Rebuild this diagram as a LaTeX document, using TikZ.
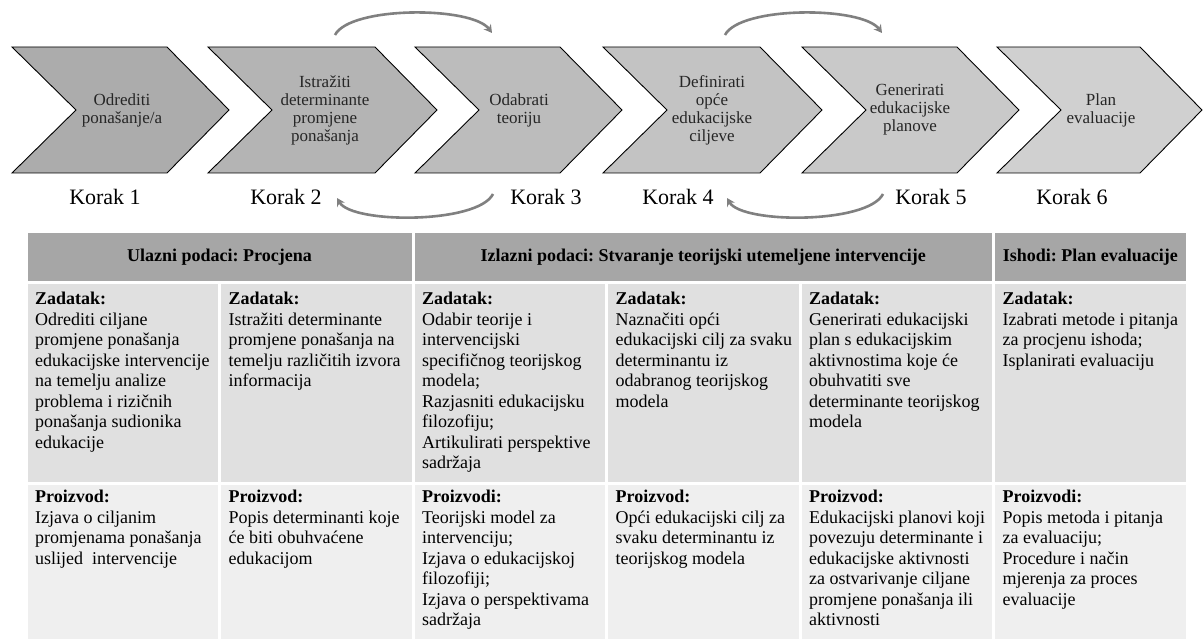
\documentclass[tikz,border=0pt]{standalone}
\usepackage{fontspec}
\setmainfont{Liberation Serif}
\frenchspacing
\usetikzlibrary{arrows.meta}
\definecolor{hdr}{RGB}{166,166,166}
\definecolor{rowa}{RGB}{224,224,224}
\definecolor{rowb}{RGB}{239,239,239}
\definecolor{arcc}{RGB}{128,128,128}
\definecolor{cA}{RGB}{172,172,172}
\definecolor{cB}{RGB}{180,180,180}
\definecolor{cC}{RGB}{188,188,188}
\definecolor{cD}{RGB}{195,195,195}
\definecolor{cE}{RGB}{201,201,201}
\definecolor{cF}{RGB}{208,208,208}
\newcommand{\mychev}[3]{\filldraw[chev, fill=#3] (#1,47) -- (#2,47) -- ({#2+62},110) -- (#2,173) -- (#1,173) -- ({#1+64},110) -- cycle;}
\tikzset{
  chev/.style={draw=black, line width=0.9pt, line join=miter},
  chevtext/.style={align=center, font=\fontsize{17}{18}\selectfont, text=black!85, inner sep=0pt},
  korak/.style={font=\fontsize{22}{24}\selectfont, inner sep=0pt},
  looparrow/.style={draw=arcc, line width=2.6pt, -{Stealth[length=8pt,width=9pt]}},
  cellbox/.style={draw=white, line width=3pt},
  cell/.style={align=left, anchor=north west, inner sep=0pt, font=\fontsize{18}{20.5}\selectfont},
  hdrtext/.style={font=\bfseries\fontsize{18}{21}\selectfont, inner sep=0pt},
}
\begin{document}
\begin{tikzpicture}[x=1pt,y=-1pt]
\useasboundingbox (0,0) rectangle (1203,639);
\fill[white] (0,0) rectangle (1203,639);

% chevrons
\mychev{12}{167}{cA}
\mychev{208}{375}{cB}
\mychev{415}{560}{cC}
\mychev{603}{760}{cD}
\mychev{802}{957}{cE}
\mychev{997}{1140}{cF}

\node[chevtext] (t1) at (122,110) {Odrediti\\ponašanje/a};
\node[chevtext] (t2) at (325,110) {Istražiti\\determinante\\promjene\\ponašanja};
\node[chevtext] (t3) at (519,110) {Odabrati\\teoriju};
\node[chevtext] (t4) at (712,110) {Definirati\\opće\\edukacijske\\ciljeve};
\node[chevtext] (t5) at (910,110) {Generirati\\edukacijske\\planove};
\node[chevtext] (t6) at (1101,110) {Plan\\evaluacije};

\node[korak] (k1) at (105,197) {Korak 1};
\node[korak] (k2) at (286,197) {Korak 2};
\node[korak] (k3) at (546,197) {Korak 3};
\node[korak] (k4) at (678,197) {Korak 4};
\node[korak] (k5) at (931,197) {Korak 5};
\node[korak] (k6) at (1072,197) {Korak 6};

% loop arrows
\coordinate (a1s) at (335,35);
\coordinate (a1e) at (492,33);
\coordinate (b1s) at (493,194);
\coordinate (b1e) at (337,198);
\coordinate (a2s) at (725,35);
\coordinate (a2e) at (882,33);
\coordinate (b2s) at (883,194);
\coordinate (b2e) at (727,198);
\draw[looparrow] (a1s) .. controls (350,6) and (472,6) .. (a1e);
\draw[looparrow] (b1s) .. controls (478,224) and (352,224) .. (b1e);
\draw[looparrow] (a2s) .. controls (740,6) and (862,6) .. (a2e);
\draw[looparrow] (b2s) .. controls (868,224) and (742,224) .. (b2e);

% table header
\filldraw[fill=hdr, cellbox] (26,232) rectangle (413,282.5);
\filldraw[fill=hdr, cellbox] (413,232) rectangle (993.5,282.5);
\filldraw[fill=hdr, cellbox] (993.5,232) rectangle (1187,282.5);
\node[hdrtext] (h1) at (219.5,257) {Ulazni podaci: Procjena};
\node[hdrtext] (h2) at (703.25,257) {Izlazni podaci: Stvaranje teorijski utemeljene intervencije};
\node[hdrtext] (h3) at (1090.25,257) {Ishodi: Plan evaluacije};

% body cells
\foreach \i in {0,...,5} {
  \pgfmathsetmacro{\xa}{26+193.5*\i}
  \pgfmathsetmacro{\xb}{26+193.5*(\i+1)}
  \filldraw[fill=rowa, cellbox] (\xa,282.5) rectangle (\xb,483.5);
  \filldraw[fill=rowb, cellbox] (\xa,483.5) rectangle (\xb,642);
}

\node[cell] (r2c1) at (35,292) {\textbf{Zadatak:}\\Odrediti ciljane\\promjene ponašanja\\edukacijske intervencije\\na temelju analize\\problema i rizičnih\\ponašanja sudionika\\edukacije};
\node[cell] (r2c2) at (228.5,292) {\textbf{Zadatak:}\\Istražiti determinante\\promjene ponašanja na\\temelju različitih izvora\\informacija};
\node[cell] (r2c3) at (422,292) {\textbf{Zadatak:}\\Odabir teorije i\\intervencijski\\specifičnog teorijskog\\modela;\\Razjasniti edukacijsku\\filozofiju;\\Artikulirati perspektive\\sadržaja};
\node[cell] (r2c4) at (615.5,292) {\textbf{Zadatak:}\\Naznačiti opći\\edukacijski cilj za svaku\\determinantu iz\\odabranog teorijskog\\modela};
\node[cell] (r2c5) at (809,292) {\textbf{Zadatak:}\\Generirati edukacijski\\plan s edukacijskim\\aktivnostima koje će\\obuhvatiti sve\\determinante teorijskog\\modela};
\node[cell] (r2c6) at (1002.5,292) {\textbf{Zadatak:}\\Izabrati metode i pitanja\\za procjenu ishoda;\\Isplanirati evaluaciju};

\node[cell] (r3c1) at (35,490) {\textbf{Proizvod:}\\Izjava o ciljanim\\promjenama ponašanja\\uslijed\ \ intervencije};
\node[cell] (r3c2) at (228.5,490) {\textbf{Proizvod:}\\Popis determinanti koje\\će biti obuhvaćene\\edukacijom};
\node[cell] (r3c3) at (422,490) {\textbf{Proizvodi:}\\Teorijski model za\\intervenciju;\\Izjava o edukacijskoj\\filozofiji;\\Izjava o perspektivama\\sadržaja};
\node[cell] (r3c4) at (615.5,490) {\textbf{Proizvod:}\\Opći edukacijski cilj za\\svaku determinantu iz\\teorijskog modela};
\node[cell] (r3c5) at (809,490) {\textbf{Proizvod:}\\Edukacijski planovi koji\\povezuju determinante i\\edukacijske aktivnosti\\za ostvarivanje ciljane\\promjene ponašanja ili\\aktivnosti};
\node[cell] (r3c6) at (1002.5,490) {\textbf{Proizvodi:}\\Popis metoda i pitanja\\za evaluaciju;\\Procedure i način\\mjerenja za proces\\evaluacije};
\end{tikzpicture}
\end{document}
